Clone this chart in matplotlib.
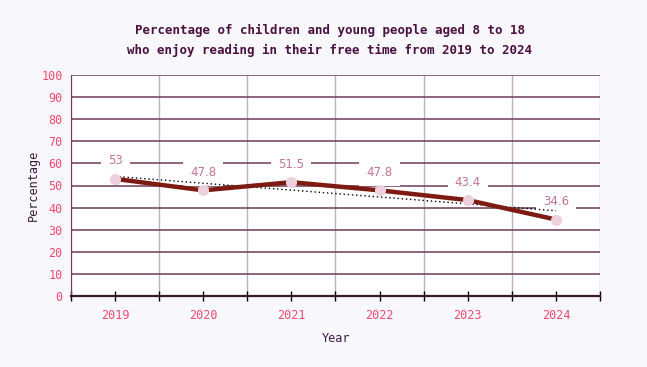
import numpy as np
import matplotlib.pyplot as plt
from matplotlib.ticker import FixedLocator

years = ['2019', '2020', '2021', '2022', '2023', '2024']
percent = [53, 47.8, 51.5, 47.8, 43.4, 34.6]
point_labels = ['53', '47.8', '51.5', '47.8', '43.4', '34.6']

plt.rcParams['font.family'] = ['DejaVu Sans Mono']

fig = plt.figure(figsize=(6.47, 3.67), dpi=100, facecolor='#f8f7fc')
ax = fig.add_axes([71 / 647, 1 - 296 / 367, 529 / 647, 221 / 367])
ax.set_facecolor('white')

x = np.arange(len(years))

# grid
ax.set_ylim(0, 100)
ax.set_xlim(-0.5, len(years) - 0.5)
ax.set_yticks(np.arange(0, 101, 10))
ax.yaxis.grid(True, color='#6e3a58', linewidth=1.1)
ax.xaxis.set_minor_locator(FixedLocator(np.arange(-0.5, len(years), 1)))
ax.xaxis.grid(True, which='minor', color='#c2aebb', linewidth=1)
ax.set_axisbelow(True)

# trend line (least squares)
slope, intercept = np.polyfit(x, percent, 1)
ax.plot(x, slope * x + intercept, linestyle=(0, (1, 2)), color='black', linewidth=1, zorder=3)

ax.plot(x, percent, color='#7d1a12', linewidth=3.2, marker='o', markersize=7,
        markerfacecolor='#ecd0de', markeredgecolor='#ecd0de', zorder=4)

for xi, yi, lab in zip(x, percent, point_labels):
    ax.annotate(lab, (xi, yi), xytext=(0, 13), textcoords='offset points',
                ha='center', va='center', fontsize=8.5, color='#c27590', family='DejaVu Sans',
                bbox=dict(boxstyle='square,pad=0.6', facecolor='white', edgecolor='none'), zorder=2)

ax.set_xticks(x)
ax.set_xticklabels(years)
ax.tick_params(axis='x', which='both', direction='inout', length=7, color='black', width=1,
               labelcolor='#f2486c', labelsize=8.5, pad=6)
ax.tick_params(axis='y', length=0, labelcolor='#f2486c', labelsize=8.5, pad=6)

for side in ['top', 'right']:
    ax.spines[side].set_visible(False)
ax.spines['left'].set_color('#6e3a58')
ax.spines['bottom'].set_color('#3a1830')
ax.spines['bottom'].set_linewidth(1.6)

ax.set_xlabel('Year', fontsize=8.5, color='#3a1a40', labelpad=7)
ax.set_ylabel('Percentage', fontsize=8.5, color='#3a1a40', labelpad=1)

fig.text(0.51, 1 - 30 / 367, 'Percentage of children and young people aged 8 to 18',
         ha='center', va='center', fontsize=9, color='#4a1040', fontweight='bold')
fig.text(0.51, 1 - 50 / 367, 'who enjoy reading in their free time from 2019 to 2024',
         ha='center', va='center', fontsize=9, color='#4a1040', fontweight='bold')

fig.savefig('out.png', dpi=100, facecolor=fig.get_facecolor())
